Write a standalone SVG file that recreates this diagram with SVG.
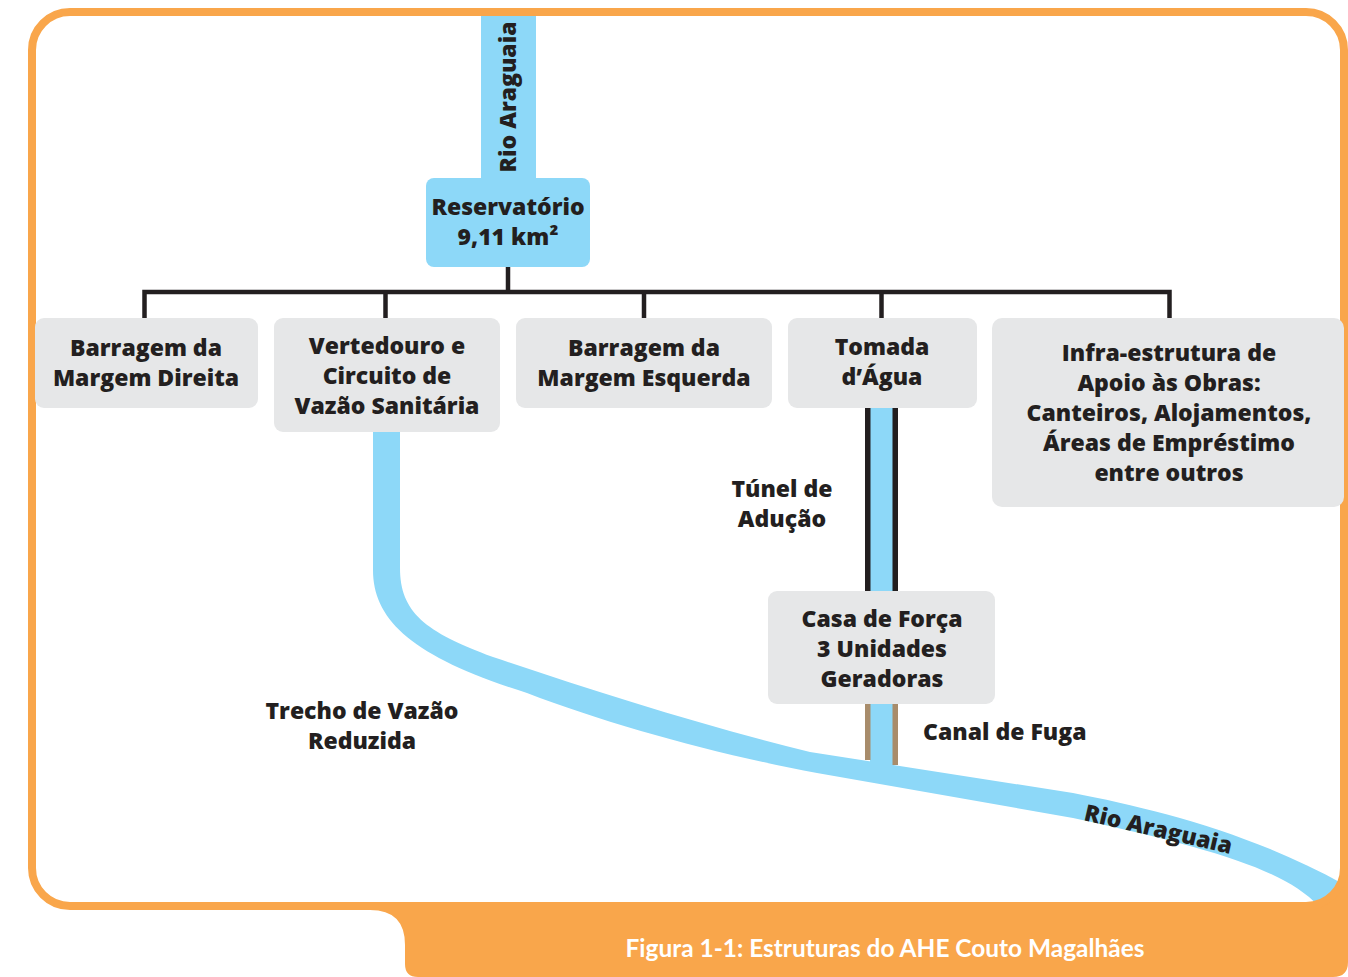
<svg xmlns="http://www.w3.org/2000/svg" width="1348" height="977" viewBox="0 0 1348 977">
<style>
.lbl{font-family:"Open Sans","Liberation Sans",sans-serif;font-weight:800;font-size:23px;fill:#231F20;text-anchor:middle}
.box{fill:#E6E7E8}
.res{fill:#8DD8F8}
.water{fill:#8DD8F8}
.conn{fill:none;stroke:#231F20;stroke-width:4.5;stroke-linejoin:miter}
.orange{fill:#F9A64B}
.cap{font-family:Lato,"Liberation Sans",sans-serif;font-weight:700;font-size:24px;fill:#FFFFFF;text-anchor:middle}
</style>
<defs>
<clipPath id="inner"><rect x="32" y="12" width="1312" height="894" rx="38"/></clipPath>
</defs>
<rect x="0" y="0" width="1348" height="977" fill="#FFFFFF"/>
<!-- caption tab -->
<path class="orange" d="M 360 902 H 1300 V 850 H 1348 V 962 Q 1348 977 1333 977 H 418 Q 405 977 405 964 V 945 Q 405 910 370 910 H 360 Z"/>
<rect x="32" y="12" width="1312" height="894" rx="38" fill="#FFFFFF"/>
<!-- water -->
<g id="water" clip-path="url(#inner)">
<rect class="water" x="481" y="0" width="55" height="185"/>
<path class="water" d="M 400 430 V 568 C 400 612 425 632 493 657 C 590 690 700 725 810 752 L 1073 793 C 1150 808 1250 832 1345 885 L 1370 910 L 1330 925 L 1322 910 C 1290 872 1220 850 1073 818 L 817 773 C 720 755 610 725 527 693 C 412 657 373 620 373 570 V 430 Z"/>
<rect class="water" x="870" y="700" width="23" height="75"/>
<rect class="water" x="870" y="405" width="23" height="190"/>
</g>
<!-- frame -->
<rect x="32" y="12" width="1312" height="894" rx="38" fill="none" stroke="#F9A64B" stroke-width="8"/>
<g id="connectors">
<path class="conn" d="M 508 267 V 292"/>
<path class="conn" d="M 144.5 318 V 292 H 1169.5 V 318"/>
<path class="conn" d="M 385.5 292 V 318"/>
<path class="conn" d="M 644 292 V 318"/>
<path class="conn" d="M 881.5 292 V 318"/>
<rect x="865" y="406" width="5.5" height="187" fill="#231F20"/>
<rect x="892.5" y="406" width="5.5" height="187" fill="#231F20"/>
<rect x="865" y="702" width="5.5" height="58" fill="#A88C6B"/>
<rect x="892.5" y="702" width="5.5" height="63" fill="#A88C6B"/>
</g>
<g id="reservatorio">
<rect class="res" x="426" y="178" width="164" height="89" rx="8"/>
<text class="lbl" x="508" y="215">Reservatório</text>
<text class="lbl" x="508" y="245">9,11 km²</text>
</g>
<g id="rio-araguaia-top">
<text class="lbl" transform="translate(516,97) rotate(-90)" style="font-size:23px">Rio Araguaia</text>
</g>
<g id="barragem-direita">
<rect class="box" x="35" y="318" width="223" height="90" rx="9"/>
<text class="lbl" x="146" y="356">Barragem da</text>
<text class="lbl" x="146" y="386">Margem Direita</text>
</g>
<g id="vertedouro">
<rect class="box" x="274" y="318" width="226" height="114" rx="9"/>
<text class="lbl" x="387" y="354">Vertedouro e</text>
<text class="lbl" x="387" y="384">Circuito de</text>
<text class="lbl" x="387" y="414">Vazão Sanitária</text>
</g>
<g id="barragem-esquerda">
<rect class="box" x="516" y="318" width="256" height="90" rx="9"/>
<text class="lbl" x="644" y="356">Barragem da</text>
<text class="lbl" x="644" y="386">Margem Esquerda</text>
</g>
<g id="tomada">
<rect class="box" x="788" y="318" width="189" height="90" rx="9"/>
<text class="lbl" x="882" y="355">Tomada</text>
<text class="lbl" x="882" y="385">d’Água</text>
</g>
<g id="infra">
<rect class="box" x="992" y="318" width="352" height="189" rx="10"/>
<text class="lbl" x="1169" y="361">Infra-estrutura de</text>
<text class="lbl" x="1169" y="391">Apoio às Obras:</text>
<text class="lbl" x="1169" y="421">Canteiros, Alojamentos,</text>
<text class="lbl" x="1169" y="451">Áreas de Empréstimo</text>
<text class="lbl" x="1169" y="481">entre outros</text>
</g>
<g id="casa-forca">
<rect class="box" x="768" y="591" width="227" height="113" rx="9"/>
<text class="lbl" x="882" y="627">Casa de Força</text>
<text class="lbl" x="882" y="657">3 Unidades</text>
<text class="lbl" x="882" y="687">Geradoras</text>
</g>
<g id="tunel-label">
<text class="lbl" x="782" y="497">Túnel de</text>
<text class="lbl" x="782" y="527">Adução</text>
</g>
<g id="trecho-label">
<text class="lbl" x="362" y="719">Trecho de Vazão</text>
<text class="lbl" x="362" y="749">Reduzida</text>
</g>
<g id="canal-label">
<text class="lbl" x="923" y="740" style="text-anchor:start">Canal de Fuga</text>
</g>
<g id="rio-label">
<text class="lbl" transform="translate(1083,820) rotate(13)" style="text-anchor:start;font-size:23px">Rio Araguaia</text>
</g>
<g id="caption">
<text class="cap" x="885" y="957" textLength="519" lengthAdjust="spacingAndGlyphs">Figura 1-1: Estruturas do AHE Couto Magalhães</text>
</g>
</svg>
